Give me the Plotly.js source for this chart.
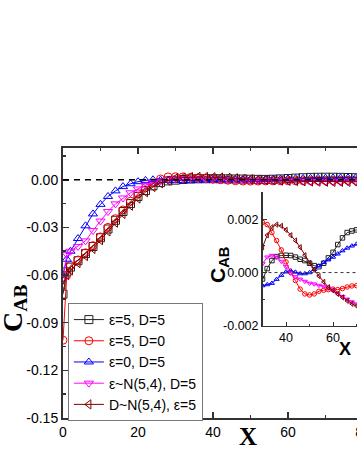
<!DOCTYPE html>
<html>
<head>
<meta charset="utf-8">
<script src="https://cdn.plot.ly/plotly-3.0.1.min.js"></script>
<style>
  html, body { margin: 0; padding: 0; overflow: hidden; background: #fff; }
  #chart { width: 460px; height: 462px; }
</style>
</head>
<body>
<div id="chart"></div>
<script>
// sample positions shared by every series
const xs = [0, 1, 2, 4, 6, 8, 10, 12, 14, 16, 18, 20, 22, 24, 26, 28, 30, 32, 34, 36, 38, 40,
  42, 44, 46, 48, 50, 52, 54, 56, 58, 60, 62, 64, 66, 68, 70, 72, 74, 76, 78, 80,
  82, 84, 86, 88, 90, 92, 94, 96, 98, 100];

const blackY = [-0.072, -0.058, -0.055, -0.051, -0.0465, -0.042, -0.0365, -0.031, -0.0255, -0.020, -0.015, -0.0105,
  -0.0068, -0.0038, -0.0018, -0.0007, -0.00024, 0.00015, 0.00045, 0.0006, 0.00064, 0.00065,
  0.00064, 0.00058, 0.0005, 0.00045, 0.00035, 0.00026, 0.00022, 0.00035, 0.00055, 0.00076,
  0.00105, 0.0013, 0.0015, 0.00156, 0.0016, 0.00158, 0.00152, 0.00142, 0.0013, 0.00115,
  0.001, 0.00085, 0.0007, 0.00056, 0.00044, 0.00034, 0.00026, 0.0002, 0.00016, 0.00013];

const redY = [-0.101, -0.060, -0.054, -0.0505, -0.046, -0.0415, -0.036, -0.030, -0.0245, -0.019, -0.0135, -0.0088,
  -0.005, -0.002, 0.0005, 0.0018, 0.00188, 0.0018, 0.0015, 0.0012, 0.00085, 0.0004,
  0.0, -0.0003, -0.00062, -0.0008, -0.00084, -0.0008, -0.0007, -0.00066, -0.00064, -0.00062,
  -0.00064, -0.0006, -0.00054, -0.0005, -0.00049, -0.00046, -0.0004, -0.00034, -0.0003, -0.00028,
  -0.00025, -0.0002, -0.00016, -0.00012, -0.0001, -0.00008, -0.00006, -0.00005, -0.00004, -0.00003];

const blueY = [-0.060, -0.050, -0.045, -0.037, -0.029, -0.0215, -0.0155, -0.0105, -0.007, -0.0043, -0.0025, -0.0012,
  -0.0004, 0.0, -0.0002, -0.0004, -0.00049, -0.00045, -0.0004, -0.00025, -0.0001, 0.00003,
  0.00007, 0.00002, -0.00004, -0.00004, 0.0, 0.00012, 0.00025, 0.00038, 0.00048, 0.00058,
  0.0007, 0.00082, 0.00092, 0.001, 0.00107, 0.00112, 0.00116, 0.0012, 0.00122, 0.00122,
  0.0012, 0.00116, 0.0011, 0.00102, 0.00094, 0.00085, 0.00076, 0.00068, 0.0006, 0.00052];

const magentaY = [-0.062, -0.047, -0.045, -0.042, -0.0385, -0.032, -0.026, -0.020, -0.0152, -0.0115, -0.0082, -0.0058,
  -0.0035, -0.0018, -0.0008, -0.0001, 0.00033, 0.00058, 0.00064, 0.00058, 0.00042, 0.00022,
  -0.00002, -0.00016, -0.00025, -0.00033, -0.0004, -0.00043, -0.00048, -0.00052, -0.00058, -0.00067,
  -0.0008, -0.0009, -0.001, -0.0011, -0.00118, -0.00124, -0.00128, -0.0013, -0.0013, -0.00128,
  -0.00124, -0.00118, -0.0011, -0.001, -0.0009, -0.0008, -0.0007, -0.0006, -0.0005, -0.0004];

const brownY = [-0.066, -0.060, -0.057, -0.0525, -0.048, -0.0435, -0.038, -0.0325, -0.027, -0.0215, -0.0163, -0.0118,
  -0.0078, -0.0045, -0.0022, -0.0005, 0.00095, 0.0014, 0.0017, 0.0018, 0.00175, 0.0016,
  0.0014, 0.0012, 0.00095, 0.00065, 0.00035, 0.0001, -0.00013, -0.00035, -0.00055, -0.00067,
  -0.0008, -0.00093, -0.00106, -0.00117, -0.00125, -0.0013, -0.00132, -0.0013, -0.00126, -0.0012,
  -0.00112, -0.00102, -0.0009, -0.00078, -0.00066, -0.00054, -0.00043, -0.00033, -0.00025, -0.00018];

const seriesNames = ['ε=5, D=5', 'ε=5, D=0', 'ε=0, D=5', 'ε~N(5,4), D=5', 'D~N(5,4), ε=5'];

const xTickVals = [0, 20, 40, 60, 80, 100];
const xTickText = ['0', '20', '40', '60', '80', '100'];
const yTickVals = [-0.15, -0.12, -0.09, -0.06, -0.03, 0.0];
const yTickText = ['-0.15', '-0.12', '-0.09', '-0.06', '-0.03', '0.00'];
const insetXTickVals = [40, 60, 80, 100];
const insetXTickText = ['40', '60', '80', '100'];
const insetYTickVals = [-0.002, 0.0, 0.002];
const insetYTickText = ['-0.002', '0.000', '0.002'];

const seriesY = [blackY, redY, blueY, magentaY, brownY];
const colors = ['#222222', '#ff0000', '#0000ff', '#ff00ff', '#800000'];
const symbols = ['square-open', 'circle-open', 'triangle-up-open', 'triangle-down-open', 'triangle-left-open'];

const sans = 'Liberation Sans, Arial, sans-serif';
const serif = 'Liberation Serif, Times New Roman, serif';

let data = [];

// main panel
for (let i = 0; i < seriesY.length; i++) {
  data.push({
    type: 'scatter',
    mode: 'lines+markers',
    x: xs,
    y: seriesY[i],
    name: seriesNames[i],
    xaxis: 'x',
    yaxis: 'y',
    line: {color: colors[i], width: 1},
    marker: {symbol: symbols[i], size: 8, color: colors[i], line: {width: 1}}
  });
}

// inset, same data zoomed in
for (let i = 0; i < seriesY.length; i++) {
  data.push({
    type: 'scatter',
    mode: 'lines+markers',
    x: xs,
    y: seriesY[i],
    name: seriesNames[i],
    showlegend: false,
    xaxis: 'x2',
    yaxis: 'y2',
    line: {color: colors[i], width: 1},
    marker: {symbol: symbols[i], size: 4.5, color: colors[i], line: {width: 1}}
  });
}

const mainAxis = {
  showgrid: false,
  zeroline: false,
  showline: true,
  linecolor: '#333',
  linewidth: 2,
  mirror: 'ticks',
  ticks: 'inside',
  ticklen: 6,
  tickwidth: 1.5,
  tickcolor: '#333',
  tickfont: {family: sans, size: 14, color: '#000'}
};

const insetAxis = {
  showgrid: false,
  zeroline: false,
  showline: true,
  linecolor: '#333',
  linewidth: 1.5,
  ticks: 'inside',
  ticklen: 4,
  tickwidth: 1,
  tickcolor: '#333',
  tickfont: {family: sans, size: 12.5, color: '#000'}
};

const layout = {
  width: 460,
  height: 462,
  margin: {l: 63, r: 22, t: 148, b: 44},
  paper_bgcolor: '#fff',
  plot_bgcolor: 'rgba(0,0,0,0)',
  showlegend: true,
  xaxis: Object.assign({}, mainAxis, {
    domain: [0, 1],
    range: [0, 100],
    tickvals: xTickVals,
    ticktext: xTickText,
    minor: {dtick: 10, ticks: 'inside', ticklen: 3, tickcolor: '#333'}
  }),
  yaxis: Object.assign({}, mainAxis, {
    domain: [0, 1],
    range: [-0.15, 0.02],
    tickvals: yTickVals,
    ticktext: yTickText,
    minor: {tickvals: [-0.135, -0.105, -0.075, -0.045, -0.015, 0.015], ticks: 'inside', ticklen: 3, tickcolor: '#333'}
  }),
  xaxis2: Object.assign({}, insetAxis, {
    domain: [0.532, 0.971],
    range: [30, 100],
    anchor: 'y2',
    tickvals: insetXTickVals,
    ticktext: insetXTickText,
    minor: {dtick: 10, ticks: 'inside', ticklen: 2, tickcolor: '#333'}
  }),
  yaxis2: Object.assign({}, insetAxis, {
    domain: [0.341, 0.837],
    range: [-0.002, 0.00302],
    anchor: 'x2',
    tickvals: insetYTickVals,
    ticktext: insetYTickText,
    minor: {tickvals: [-0.001, 0.001, 0.003], ticks: 'inside', ticklen: 2, tickcolor: '#333'}
  }),
  legend: {
    x: 0.013,
    y: 0.426,
    xanchor: 'left',
    yanchor: 'top',
    bgcolor: '#fff',
    bordercolor: '#777',
    borderwidth: 1,
    font: {family: sans, size: 14, color: '#000'},
    tracegroupgap: 0,
    itemwidth: 30
  },
  shapes: [
    {type: 'line', xref: 'x', yref: 'y', x0: 0, x1: 100, y0: 0, y1: 0,
      line: {color: '#000', width: 1.5, dash: '6px,5px'}},
    {type: 'line', xref: 'x2', yref: 'y2', x0: 30, x1: 100, y0: 0, y1: 0,
      line: {color: '#333', width: 1, dash: '3px,3px'}}
  ],
  annotations: [
    {xref: 'paper', yref: 'paper', x: -0.13, y: 0.405, xanchor: 'center', yanchor: 'middle',
      textangle: -90, showarrow: false,
      text: '<b>C<sub>AB</sub></b>', font: {family: serif, size: 28, color: '#000'}},
    {xref: 'paper', yref: 'paper', x: 0.493, y: -0.067, xanchor: 'center', yanchor: 'middle',
      showarrow: false, text: '<b>X</b>', font: {family: serif, size: 25, color: '#000'}},
    {xref: 'paper', yref: 'paper', x: 0.416, y: 0.567, xanchor: 'center', yanchor: 'middle',
      textangle: -90, showarrow: false,
      text: '<b>C<sub>AB</sub></b>', font: {family: sans, size: 21, color: '#000'}},
    {xref: 'paper', yref: 'paper', x: 0.752, y: 0.255, xanchor: 'center', yanchor: 'middle',
      showarrow: false, text: '<b>X</b>', font: {family: sans, size: 18, color: '#000'}}
  ]
};

Plotly.newPlot('chart', data, layout, {displayModeBar: false, staticPlot: true});
</script>
</body>
</html>
